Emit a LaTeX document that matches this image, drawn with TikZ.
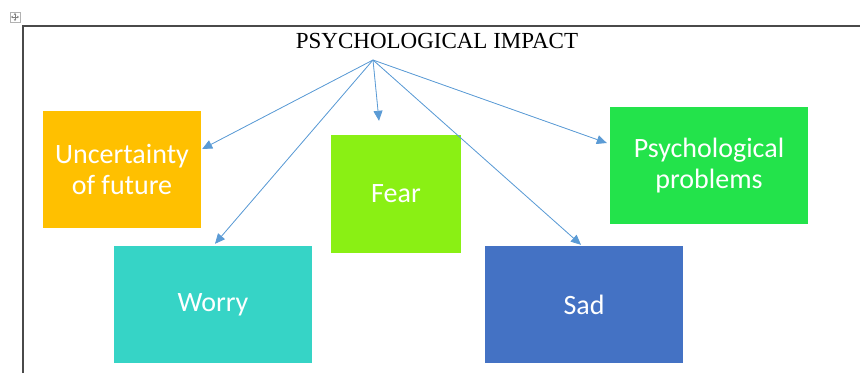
\documentclass[tikz,border=0pt]{standalone}
\usepackage{fontspec}
\setmainfont{Liberation Serif}
\newfontfamily\boxfont{Carlito}
\usetikzlibrary{arrows.meta}
\definecolor{arrowblue}{HTML}{5B9BD5}
\definecolor{framegray}{HTML}{4A4A4A}
\begin{document}
\begin{tikzpicture}[x=1pt,y=-1pt,>={Triangle[length=10pt,width=9pt]},
    box/.style={rectangle,draw=none,text=white,align=center,inner sep=0pt,
        font=\boxfont\fontsize{28}{31}\selectfont},
    link/.style={->,draw=arrowblue,fill=arrowblue,line width=0.8pt}]
    \def\w{860}
    \def\h{373}
    \useasboundingbox (0,0) rectangle (\w,\h);

    % frame of the table
    \draw[framegray,line width=1.2pt] (23,\h)--(23,26)--(\w,26);
    \node[draw=gray!60,fill=white,minimum size=10pt,inner sep=0pt] (handle) at (15,17) {};
    \draw[gray,<->,>={Stealth[length=2pt,width=2.5pt]},line width=0.5pt] (11,17)--(19,17);
    \draw[gray,<->,>={Stealth[length=2pt,width=2.5pt]},line width=0.5pt] (15,13)--(15,21);

    \node[font=\fontsize{23}{26}\selectfont] (title) at (437,41) {PSYCHOLOGICAL IMPACT};
    \coordinate (src) at (373,60);

    \node[box,fill={rgb,255:red,255;green,192;blue,0},minimum width=158pt,minimum height=117pt] (uncertainty) at (122,169.5) {Uncertainty\\of future};
    \node[box,fill={rgb,255:red,54;green,212;blue,198},minimum width=198pt,minimum height=117pt] (worry) at (213,304.5) {Worry};
    \node[box,fill={rgb,255:red,138;green,240;blue,20},minimum width=130pt,minimum height=118pt] (fear) at (396,194) {Fear};
    \node[box,fill={rgb,255:red,68;green,114;blue,196},minimum width=198pt,minimum height=117pt] (sad) at (584,304.5) {Sad};
    \node[box,fill={rgb,255:red,35;green,227;blue,75},minimum width=198pt,minimum height=117pt] (problems) at (709,165.5) {Psychological\\problems};

    \draw[link] (src)--([shift={(1,-20.5)}]uncertainty.east);
    \draw[link] (src)--([shift={(2,-2)}]worry.north);
    \draw[link] (src)--([shift={(-17,-14)}]fear.north);
    \draw[link] (src)--([shift={(-3,-1)}]sad.north);
    \draw[link] (src)--([shift={(-3,-22.5)}]problems.west);
\end{tikzpicture}
\end{document}
